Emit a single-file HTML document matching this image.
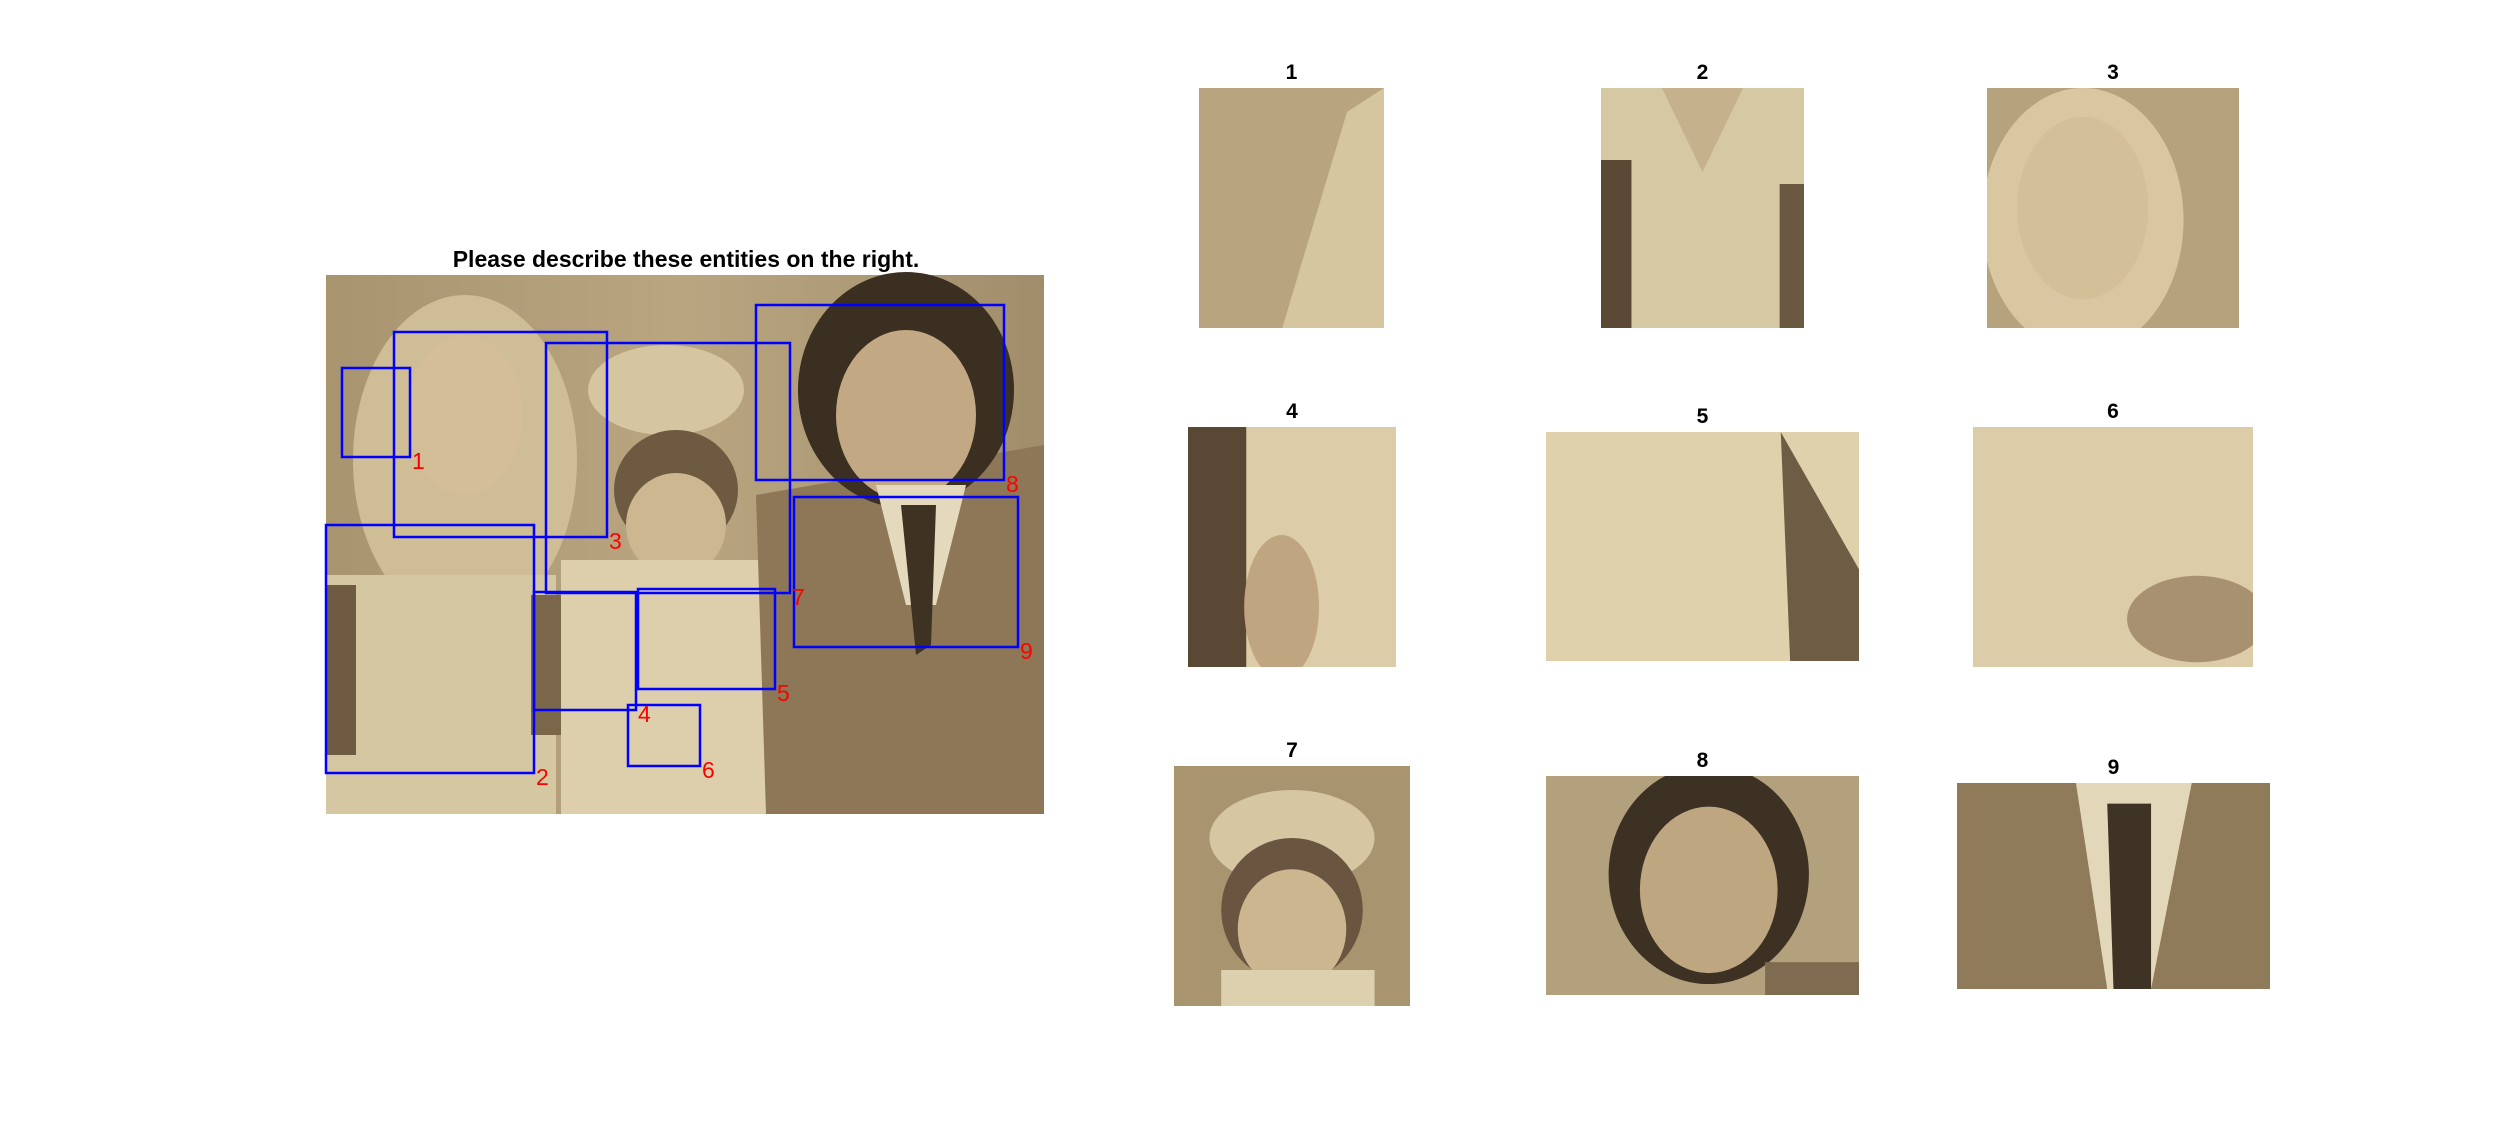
<!DOCTYPE html>
<html><head><meta charset="utf-8"><style>
html,body{margin:0;padding:0;background:#fff;}
body{width:2494px;height:1125px;position:relative;overflow:hidden;font-family:"Liberation Sans",sans-serif;}
svg{position:absolute;left:0;top:0;}
.t{font-weight:bold;font-size:21px;fill:#000;text-anchor:middle;}
.mt{font-weight:bold;font-size:23px;fill:#000;text-anchor:middle;}
.lbl{font-size:23px;fill:#ff0000;}
</style></head><body>
<svg width="2494" height="1125" viewBox="0 0 2494 1125">
<defs>
<linearGradient id="bg" x1="0" y1="0" x2="1" y2="0"><stop offset="0" stop-color="#a8956f"/><stop offset="0.5" stop-color="#b9a681"/><stop offset="1" stop-color="#a18d6a"/></linearGradient>
</defs>
<text class="mt" x="686" y="267">Please describe these entities on the right.</text>
<g id="main" transform="translate(326,275)">
<rect width="718" height="539" fill="url(#bg)"/>
<ellipse cx="139" cy="185" rx="112" ry="165" fill="#cfbd95"/>
<ellipse cx="139" cy="140" rx="58" ry="80" fill="#d3be97"/>
<rect x="0" y="300" width="230" height="239" fill="#d6c7a3"/>
<rect x="0" y="310" width="30" height="170" fill="#6f5b42"/>
<rect x="205" y="320" width="35" height="140" fill="#7a6648"/>
<ellipse cx="340" cy="115" rx="78" ry="45" fill="#d5c5a0"/>
<ellipse cx="350" cy="215" rx="62" ry="60" fill="#6e5a40"/>
<ellipse cx="350" cy="250" rx="50" ry="52" fill="#cdb791"/>
<rect x="235" y="285" width="225" height="254" fill="#ddcfab"/>
<polygon points="430,220 718,170 718,539 440,539" fill="#8d7757"/>
<ellipse cx="580" cy="115" rx="108" ry="118" fill="#3b2f22"/>
<ellipse cx="580" cy="140" rx="70" ry="85" fill="#c2a983"/>
<polygon points="550,210 640,210 610,330 580,330" fill="#e5d9bd"/>
<polygon points="575,230 610,230 605,370 590,380" fill="#3e3223"/>
</g>
<g id="boxes" fill="none" stroke="#0000ff" stroke-width="2.5"></g>
<g id="labels"></g>
<g id="crops"></g>
</svg>
<script>
const boxIds=["1","2","3","4","5","6","7","8","9"];
const boxX0=[342,326,394,534,638,628,546,756,794];
const boxY0=[368,525,332,592,589,705,343,305,497];
const boxX1=[410,534,607,636,775,700,790,1004,1018];
const boxY1=[457,773,537,710,689,766,593,480,647];
const cropX0=[1199,1601,1987,1188,1546,1973,1174,1546,1957];
const cropY0=[88,88,88,427,432,427,766,776,783];
const cropX1=[1384,1804,2239,1396,1859,2253,1410,1859,2270];
const cropY1=[328,328,328,667,661,667,1006,995,989];
const NS="http://www.w3.org/2000/svg";
const bg=document.getElementById('boxes'),lg=document.getElementById('labels'),cg=document.getElementById('crops');
function mk(t,a){const e=document.createElementNS(NS,t);for(const k in a)e.setAttribute(k,a[k]);return e;}
boxIds.forEach((id,i)=>{
 const r=mk('rect',{x:boxX0[i],y:boxY0[i],width:boxX1[i]-boxX0[i],height:boxY1[i]-boxY0[i]});
 
 
 bg.appendChild(r);
 const t=mk('text',{x:boxX1[i]+2,y:boxY1[i]+12,class:'lbl'});t.textContent=id;
 
 
 lg.appendChild(t);
});
const paints=[
 [['rect',0,0,100,100,'#b8a57f'],['poly','45,100 80,10 100,0 100,100','#d6c6a0']],
 [['rect',0,0,100,100,'#d7c8a4'],['rect',0,30,15,70,'#5b4936'],['rect',88,40,12,60,'#6a5840'],['poly','30,0 50,35 70,0','#c5b18c']],
 [['rect',0,0,100,100,'#b6a27d'],['ellipse',38,55,40,55,'#d8c7a0'],['ellipse',38,50,26,38,'#d3bf98']],
 [['rect',0,0,100,100,'#dccca8'],['rect',0,0,28,100,'#5a4835'],['ellipse',45,75,18,30,'#bfa680']],
 [['rect',0,0,100,100,'#e0d1ad'],['poly','75,0 78,100 100,100 100,60','#6e5c44']],
 [['rect',0,0,100,100,'#ddcca8'],['ellipse',80,80,25,18,'#a79171']],
 [['rect',0,0,100,100,'#a8946f'],['ellipse',50,30,35,20,'#d6c6a1'],['ellipse',50,60,30,30,'#6a5640'],['ellipse',50,68,23,25,'#ccb690'],['rect',20,85,65,15,'#ddd0ae']],
 [['rect',0,0,100,100,'#b3a07c'],['ellipse',52,45,32,50,'#3d3124'],['ellipse',52,52,22,38,'#bea681'],['rect',70,85,30,15,'#7f6b4f']],
 [['rect',0,0,100,100,'#8f7a5a'],['poly','38,0 75,0 62,100 48,100','#e3d7ba'],['poly','48,10 62,10 62,100 50,100','#3f3325']]
];
boxIds.forEach((id,i)=>{
 const x=cropX0[i],y=cropY0[i],w=cropX1[i]-x,h=cropY1[i]-y;
 const g=mk('g',{});
 
 
 const s=mk('svg',{x:x,y:y,width:w,height:h,viewBox:'0 0 100 100',preserveAspectRatio:'none'});
 
 
 paints[i].forEach(p=>{
  let e;
  if(p[0]==='rect')e=mk('rect',{x:p[1],y:p[2],width:p[3],height:p[4],fill:p[5]});
  else if(p[0]==='ellipse')e=mk('ellipse',{cx:p[1],cy:p[2],rx:p[3],ry:p[4],fill:p[5]});
  else e=mk('polygon',{points:p[1],fill:p[2]});
  s.appendChild(e);
 });
 g.appendChild(s);
 const t=mk('text',{x:x+w/2,y:y-9,class:'t'});t.textContent=id;
 
 
 g.appendChild(t);
 cg.appendChild(g);
});
</script>
</body></html>
